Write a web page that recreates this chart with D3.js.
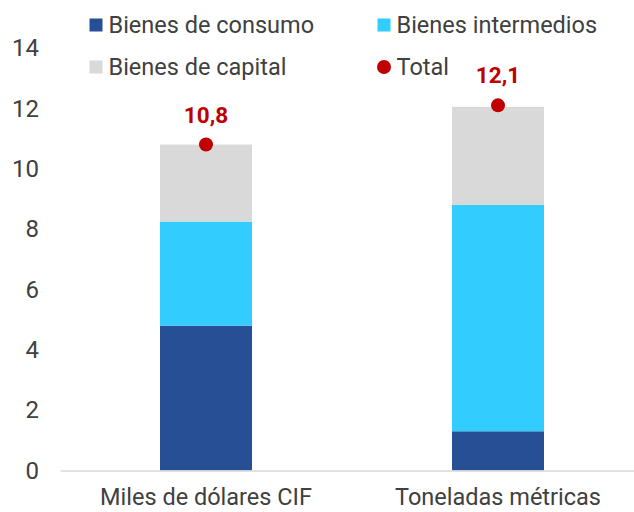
<!DOCTYPE html>
<html>
<head>
<meta charset="utf-8">
<script src="https://cdn.jsdelivr.net/npm/d3@7"></script>
<style>
  body { margin: 0; background: #fff; }
  svg text { font-family: Roboto, "Noto Sans", sans-serif; }
</style>
</head>
<body>
<div id="graphic"></div>
<script>
// data
var categories = ["Miles de dólares CIF", "Toneladas métricas"];
var consumo = [4.8, 1.3];
var intermedios = [3.45, 7.5];
var capital = [2.55, 3.25];
var totals = [10.8, 12.1];
var yTicks = [0, 2, 4, 6, 8, 10, 12, 14];

var seriesNames = ["Bienes de consumo", "Bienes intermedios", "Bienes de capital"];
var colours = ["#264f96", "#33ccff", "#d9d9d9"];

var width = 634, height = 512;
var margin = { top: 48, right: -10, bottom: 41.5, left: 60 };

var svg = d3.select("#graphic").append("svg")
  .attr("width", width)
  .attr("height", height);

var chart_width = width - margin.left - margin.right;
var chart_height = height - margin.top - margin.bottom;

var g = svg.append("g")
  .attr("transform", "translate(" + margin.left + "," + margin.top + ")");

//scales
var x = d3.scaleBand()
  .domain(categories)
  .range([0, chart_width])
  .paddingInner(0.685)
  .paddingOuter(0.3425);

var y = d3.scaleLinear()
  .domain([0, 14])
  .range([chart_height, 0]);

// build table for stacking
var table = categories.map(function(c, i) {
  return { cat: c, "Bienes de consumo": consumo[i], "Bienes intermedios": intermedios[i], "Bienes de capital": capital[i] };
});
var stacked = d3.stack().keys(seriesNames)(table);

// y axis, labels only
var yAxis = d3.axisLeft(y).tickValues(yTicks).tickSize(0).tickPadding(21);
g.append("g")
  .attr("class", "y axis")
  .call(yAxis)
  .call(function(a) { a.select(".domain").remove(); })
  .selectAll("text")
  .attr("fill", "#404040")
  .style("font-size", "24px");

// bars
g.selectAll("g.series")
  .data(stacked)
  .join("g")
  .attr("class", "series")
  .attr("fill", function(d, i) { return colours[i]; })
  .selectAll("rect")
  .data(function(d) { return d; })
  .join("rect")
  .attr("x", function(d) { return x(d.data.cat); })
  .attr("width", x.bandwidth())
  .attr("y", function(d) { return y(d[1]); })
  .attr("height", function(d) { return y(d[0]) - y(d[1]); });

// x axis
var xAxis = d3.axisBottom(x).tickSize(0).tickPadding(18);
g.append("g")
  .attr("class", "x axis")
  .attr("transform", "translate(0," + chart_height + ")")
  .call(xAxis)
  .call(function(a) {
    a.select(".domain").attr("stroke", "#d9d9d9").attr("stroke-width", 1.5);
  })
  .selectAll("text")
  .attr("fill", "#404040")
  .style("font-size", "23.5px");

// total points
g.selectAll("circle.total")
  .data(totals)
  .join("circle")
  .attr("class", "total")
  .attr("cx", function(d, i) { return x(categories[i]) + x.bandwidth() / 2; })
  .attr("cy", function(d) { return y(d); })
  .attr("r", 7)
  .attr("fill", "#c00000");

g.selectAll("text.totalLabel")
  .data(totals)
  .join("text")
  .attr("class", "totalLabel")
  .attr("x", function(d, i) { return x(categories[i]) + x.bandwidth() / 2; })
  .attr("y", function(d) { return y(d) - 22; })
  .attr("text-anchor", "middle")
  .attr("fill", "#c00000")
  .style("font-size", "22.5px")
  .style("font-weight", "bold")
  .text(function(d) { return d3.format(".1f")(d).replace(".", ","); });

// legend
var legendItems = [
  { name: seriesNames[0], colour: colours[0], type: "rect", x: 89.5, y: 25 },
  { name: seriesNames[1], colour: colours[1], type: "rect", x: 377.5, y: 25 },
  { name: seriesNames[2], colour: colours[2], type: "rect", x: 89.5, y: 67 },
  { name: "Total", colour: "#c00000", type: "circle", x: 377.5, y: 67 }
];

var legend = svg.selectAll("g.legend")
  .data(legendItems)
  .join("g")
  .attr("class", "legend")
  .attr("transform", function(d) { return "translate(" + d.x + "," + d.y + ")"; });

legend.filter(function(d) { return d.type == "rect"; })
  .append("rect")
  .attr("x", 0).attr("y", -6.5)
  .attr("width", 13).attr("height", 13)
  .attr("fill", function(d) { return d.colour; });

legend.filter(function(d) { return d.type == "circle"; })
  .append("circle")
  .attr("cx", 6.5).attr("cy", 0).attr("r", 7)
  .attr("fill", function(d) { return d.colour; });

legend.append("text")
  .attr("x", 19)
  .attr("dy", "0.35em")
  .attr("fill", "#404040")
  .style("font-size", "23.5px")
  .text(function(d) { return d.name; });
</script>
</body>
</html>
